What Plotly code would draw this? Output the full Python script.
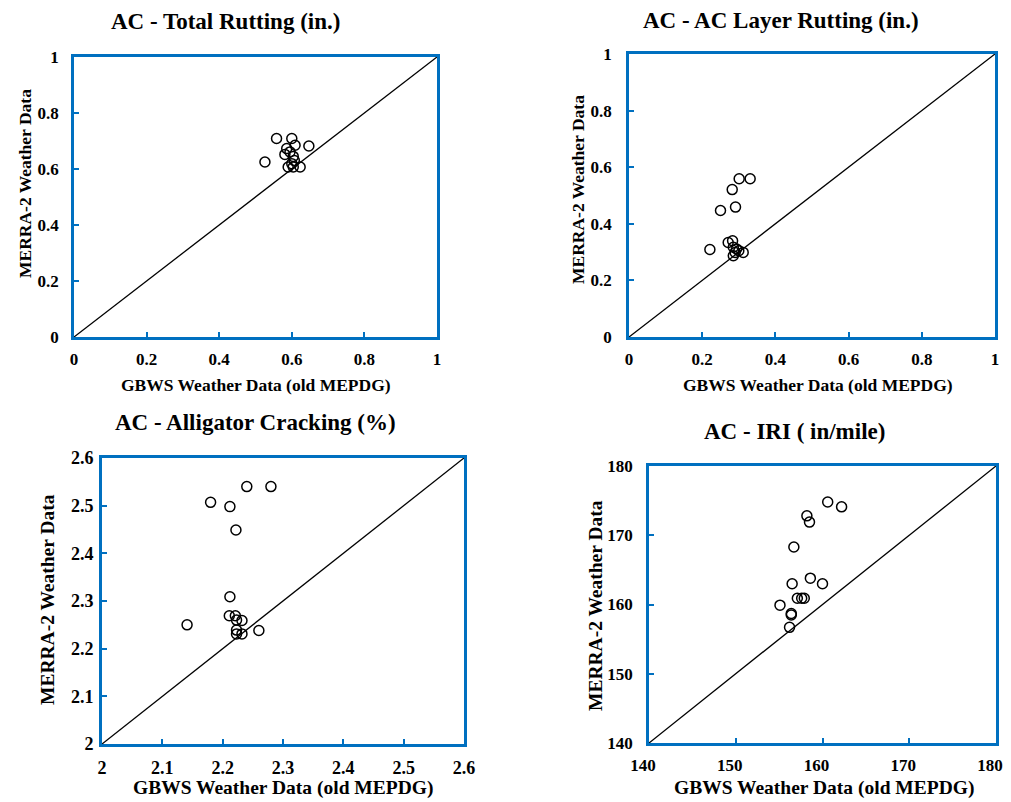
import plotly.graph_objects as go

# ---- data ----
tr_gbws = [0.558, 0.600, 0.609, 0.647, 0.526, 0.586, 0.581, 0.595, 0.604, 0.590, 0.604, 0.623, 0.600, 0.607]
tr_merra = [0.709, 0.709, 0.685, 0.682, 0.625, 0.673, 0.652, 0.661, 0.645, 0.607, 0.607, 0.607, 0.619, 0.630]

acr_gbws = [0.301, 0.331, 0.282, 0.250, 0.291, 0.221, 0.271, 0.283, 0.285, 0.294, 0.290, 0.312, 0.285, 0.300]
acr_merra = [0.559, 0.559, 0.521, 0.447, 0.459, 0.309, 0.334, 0.340, 0.317, 0.311, 0.299, 0.299, 0.287, 0.305]

ac_gbws = [2.240, 2.280, 2.180, 2.212, 2.222, 2.212, 2.141, 2.211, 2.221, 2.223, 2.232, 2.223, 2.223, 2.232, 2.260]
ac_merra = [2.540, 2.540, 2.507, 2.498, 2.449, 2.309, 2.250, 2.269, 2.269, 2.260, 2.259, 2.239, 2.231, 2.231, 2.238]

iri_gbws = [160.6, 162.2, 158.2, 158.5, 156.7, 156.5, 158.6, 160.0, 157.1, 157.6, 157.9, 155.1, 156.4, 156.4, 156.2]
iri_merra = [174.8, 174.1, 172.8, 171.9, 168.3, 163.0, 163.8, 163.0, 160.9, 160.9, 160.9, 159.9, 158.5, 158.7, 156.7]

titles = ["AC - Total Rutting (in.)", "AC - AC Layer Rutting (in.)",
          "AC - Alligator Cracking (%)", "AC - IRI ( in/mile)"]
x_title = "GBWS Weather Data (old MEPDG)"
y_title = "MERRA-2 Weather Data"

ranges = [(0, 1), (0, 1), (2, 2.6), (140, 180)]
dticks = [0.2, 0.2, 0.1, 10]
series = [(tr_gbws, tr_merra), (acr_gbws, acr_merra), (ac_gbws, ac_merra), (iri_gbws, iri_merra)]

# ---- layout geometry (page pixels; page body has an 8px margin) ----
OFF = 8
W, H = 1011 - OFF, 802 - OFF
boxes = [  # x0, x1, y0(top), y1(bottom)
    (74, 437, 57, 337),
    (629, 995, 54, 337),
    (102, 464, 458, 744),
    (649, 996, 466, 743),
]
title_pos = [(225, 22), (781, 21), (255, 422), (794, 432)]
xt_pos = [(256, 385), (818, 385), (283, 788), (824, 788)]
yt_pos = [(25, 184), (578, 190), (47, 600), (595, 606)]
tick_size = [17, 17, 18, 17]
axt_size = [17.5, 17.5, 19.5, 19.5]
ystand = [9, 11, 2, 10]
xshift = [0, 0, 0, -6]

BLUE = "#0070C0"
FONT = "Liberation Serif"


def px(x):
    return (x - OFF) / W


def py(y):
    return 1 - (y - OFF) / H


fig = go.Figure()
annotations = []
for i in range(4):
    xs, ys = series[i]
    lo, hi = ranges[i]
    ax = "" if i == 0 else str(i + 1)
    fig.add_trace(go.Scatter(x=[lo, hi], y=[lo, hi], mode="lines",
                             line=dict(color="black", width=1.3),
                             xaxis="x" + ax, yaxis="y" + ax, showlegend=False,
                             hoverinfo="skip"))
    fig.add_trace(go.Scatter(x=xs, y=ys, mode="markers",
                             marker=dict(symbol="circle-open", size=10, color="black",
                                         line=dict(width=1.5, color="black")),
                             xaxis="x" + ax, yaxis="y" + ax, showlegend=False))
    x0, x1, y0, y1 = boxes[i]
    common = dict(range=[lo, hi], dtick=dticks[i], tick0=lo, showgrid=False, zeroline=False,
                  showline=True, mirror=True, linecolor=BLUE, linewidth=2.8,
                  ticks="inside", tickcolor=BLUE, ticklen=5, tickwidth=1.5, automargin=False,
                  ticklabeloverflow="allow",
                  tickfont=dict(family=FONT, size=tick_size[i], color="black", weight="bold"))
    fig.update_layout(**{
        "xaxis" + ax: dict(domain=[px(x0), px(x1)], anchor="y" + ax,
                           ticklabelstandoff=5, ticklabelshift=xshift[i], **common),
        "yaxis" + ax: dict(domain=[py(y1), py(y0)], anchor="x" + ax,
                           ticklabelstandoff=ystand[i], **common),
    })
    tx, ty = title_pos[i]
    annotations.append(dict(text=titles[i], x=px(tx), y=py(ty), xref="paper", yref="paper",
                            showarrow=False, xanchor="center", yanchor="middle",
                            font=dict(family=FONT, size=23, color="black", weight="bold")))
    xx, xy = xt_pos[i]
    annotations.append(dict(text=x_title, x=px(xx), y=py(xy), xref="paper", yref="paper",
                            showarrow=False, xanchor="center", yanchor="middle",
                            font=dict(family=FONT, size=axt_size[i], color="black", weight="bold")))
    yx, yy = yt_pos[i]
    annotations.append(dict(text=y_title, x=px(yx), y=py(yy), xref="paper", yref="paper",
                            showarrow=False, xanchor="center", yanchor="middle", textangle=-90,
                            font=dict(family=FONT, size=axt_size[i], color="black", weight="bold")))

fig.update_layout(template="none", width=W, height=H,
                  margin=dict(l=0, r=0, t=0, b=0, pad=0, autoexpand=False),
                  paper_bgcolor="white", plot_bgcolor="white",
                  annotations=annotations, showlegend=False)

fig.write_html("out.html")
